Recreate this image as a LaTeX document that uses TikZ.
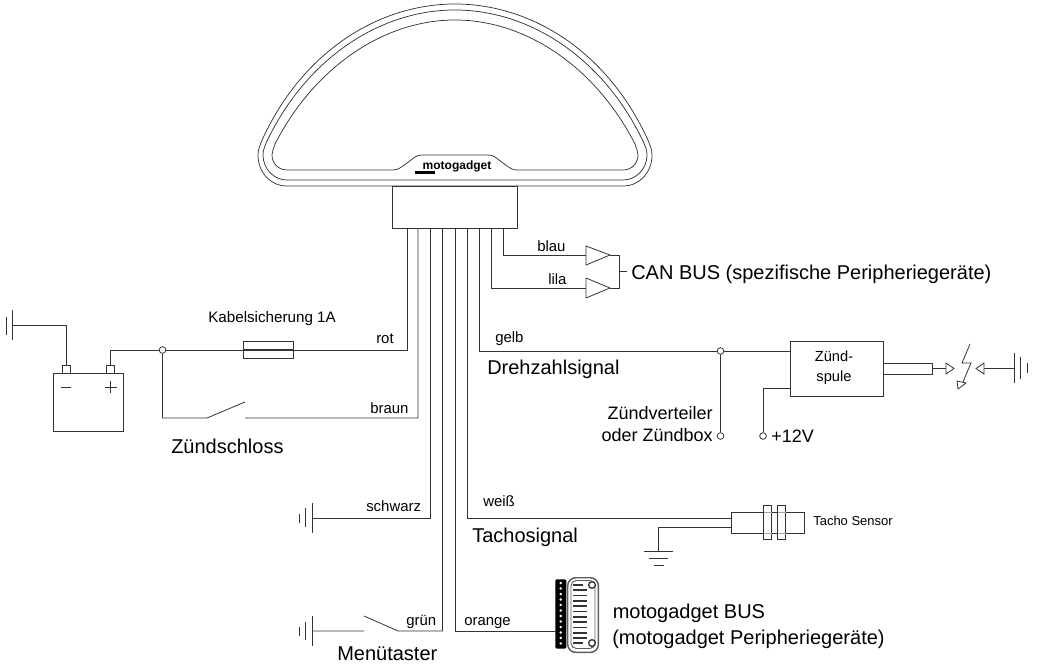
\documentclass[tikz,border=0pt]{standalone}
\usepackage{fontspec}
\setmainfont{Liberation Sans}
\usetikzlibrary{positioning, calc}
\definecolor{wire-grey}{gray}{.2}
\tikzset{
	wire/.style={draw=wire-grey, line width=.6pt},
	hull/.style={draw=wire-grey, line width=.55pt, line join=round},
	junction/.style={circle, draw=wire-grey, line width=.6pt, fill=white, inner sep=0pt, minimum size=5pt},
	part/.style={rectangle, draw=wire-grey, line width=.7pt, inner sep=0pt, outer sep=0pt, fill=white},
	buffer/.style={draw=wire-grey, line width=.6pt, fill=white, line join=miter},
	colourlabel/.style={font=\fontsize{11.2}{13}\selectfont, inner sep=0pt, anchor=base west},
	biglabel/.style={font=\fontsize{15}{18}\selectfont, inner sep=0pt, anchor=base west},
}
\begin{document}
\begin{tikzpicture}[x=.75pt, y=-.75pt]
	\useasboundingbox (0,0) rectangle (1040,667);
	% housing
	\draw[hull] (287,186) .. controls (270,186) and (258,172) .. (258,155) .. controls (258,150) and (259.5,146) .. (263,138)
		.. controls (304,50) and (380,4) .. (455,4) .. controls (530,4) and (606,50) .. (647,138)
		.. controls (650.5,146) and (652,150) .. (652,155) .. controls (652,172) and (640,186) .. (623,186) -- cycle;
	\draw[hull] (287,180) .. controls (274,180) and (263,169) .. (263,155) .. controls (263,150) and (264.5,147) .. (267,141)
		.. controls (308,56) and (382,10) .. (455,10) .. controls (528,10) and (602,56) .. (643,141)
		.. controls (645.5,147) and (647,150) .. (647,155) .. controls (647,169) and (636,180) .. (623,180) -- cycle;
	\draw[hull] (287,170) .. controls (278,170) and (272,163) .. (272,155) .. controls (272,151) and (273.5,149) .. (275,144)
		.. controls (315,66) and (385,20) .. (455,20) .. controls (525,20) and (595,66) .. (635,144)
		.. controls (636.5,149) and (638,151) .. (638,155) .. controls (638,163) and (632,170) .. (623,170)
		-- (518,170) .. controls (512,170) and (510,168) .. (507,166) -- (495,157) .. controls (493,155.5) and (491,155) .. (488,155)
		-- (422,155) .. controls (419,155) and (417,155.5) .. (415,157) -- (403,166) .. controls (400,168) and (398,170) .. (392,170) -- cycle;
	\node[font=\bfseries\fontsize{9}{10}\selectfont, inner sep=0pt] (logo) at (457,166.5) {motogadget};
	\draw[line width=1.6pt] (415,172.5) -- (435,172.5);
	\node[part, minimum width=94pt, minimum height=31.5pt, anchor=north west] (plug) at (392,186) {};
	% battery and ignition lock
	\node[part, minimum width=53pt, minimum height=44pt, anchor=north west] (battery) at (53,373) {};
	\node[part, minimum width=6.5pt, minimum height=6pt, anchor=south] (minus) at (66.5,373) {};
	\node[part, minimum width=6.5pt, minimum height=6pt, anchor=south] (plus) at (110.5,373) {};
	\draw[wire] (61,387) -- (71,387) (104.5,387) -- (116.5,387) (110.5,381) -- (110.5,393);
	\coordinate (gndbat) at (12,325);
	\draw[wire] (12,310) -- (12,340) (6,317) -- (6,335);
	\draw[wire] (gndbat) -| (minus.north);
	\node[part, minimum width=37.5pt, minimum height=12.75pt] (fuse) at (268,349.5) {};
	\node[junction] (jbat) at (162.5,350) {};
	\coordinate (rotin) at (407,228);
	\coordinate (rotbend) at (407,350);
	\draw[wire] (plus.north) |- (jbat) (jbat) -- (rotbend) -- (rotin);
	\draw[wire] (fuse.west) -- (fuse.east);
	\coordinate (lockA) at (207,418);
	\coordinate (lockB) at (245,402);
	\coordinate (lockC) at (245,418);
	\coordinate (braunin) at (418,228);
	\draw[wire] (jbat) |- (lockA) -- (lockB) (lockC) -- (418,418) -- (braunin);
	% black and green
	\coordinate (gndblack) at (312,518);
	\coordinate (blackin) at (430,228);
	\draw[wire] (blackin) |- (gndblack);
	\draw[wire] (312,503) -- (312,533) (305,508) -- (305,527) (299,514) -- (299,523);
	\coordinate (gndgreen) at (312,631);
	\coordinate (tasterA) at (364,631);
	\coordinate (tasterB) at (364,616);
	\coordinate (tasterC) at (398,631);
	\coordinate (greenin) at (442.5,228);
	\draw[wire] (gndgreen) -- (tasterA) (tasterB) -- (tasterC) -- (442.5,631) -- (greenin);
	\draw[wire] (312,616) -- (312,646) (305,622) -- (305,640) (299,627) -- (299,636);
	% motogadget bus
	\node[fill=black, rectangle, rounded corners=1pt, minimum width=8.25pt, minimum height=52pt, inner sep=0pt, anchor=north west] (terminals) at (555,579) {};
	\foreach \i in {0,...,11}
		\fill[white] ($(terminals.north)+(0,{4+\i*5.5})$) circle (1.3);
	\node[draw=wire-grey!80, line width=1.1pt, fill=white, rounded corners=6pt, minimum width=23pt, minimum height=56pt, inner sep=0pt, anchor=north west] (busbody) at (567,577) {};
	\draw[wire-grey!80, line width=.7pt, rounded corners=4pt] (571,580.5) rectangle (595,648.5);
	\foreach \i in {0,...,11}
		\draw[wire-grey, line width=1.3pt] (573,{585+\i*5.3}) -- ({\i==0 || \i==11 ? 583 : 587},{585+\i*5.3});
	\node[junction, minimum size=5pt, line width=1pt] (holeA) at (592,585) {};
	\node[junction, minimum size=5pt, line width=1pt] (holeB) at (592,643) {};
	\coordinate (orangein) at (455,228);
	\draw[wire] (orangein) |- (terminals.west |- 0,631);
	% tacho
	\node[part, minimum width=54.75pt, minimum height=15.75pt, anchor=north west] (sensor) at (731,512) {};
	\node[part, minimum width=6pt, minimum height=26pt, anchor=north west] (nutA) at (763.5,505) {};
	\node[part, minimum width=6pt, minimum height=26pt, anchor=north west] (nutB) at (777.5,505) {};
	\draw[wire, draw=gray!70, line width=.3pt] (763.5,512) -- (771.5,512) (763.5,533) -- (771.5,533) (777.5,512) -- (785.5,512) (777.5,533) -- (785.5,533);
	\coordinate (weissin) at (467,228);
	\coordinate (tachoA) at (731,518);
	\coordinate (tachoB) at (731,527);
	\coordinate (gndtacho) at (658,551);
	\draw[wire] (weissin) |- (tachoA);
	\draw[wire] (tachoB) -| (gndtacho);
	\draw[wire] (644,551) -- (673,551) (649,558) -- (668,558) (654,565) -- (664,565);
	% rpm signal and coil
	\node[part, minimum width=69.75pt, minimum height=41.25pt, anchor=north west] (coil) at (790,341) {};
	\node[junction] (jrpm) at (720.5,351) {};
	\node[junction] (verteiler) at (720.5,436) {};
	\node[junction] (plus12) at (763,436) {};
	\coordinate (gelbin) at (479,228);
	\draw[wire] (gelbin) |- (jrpm);
	\draw[wire] (jrpm) -- (coil.west |- jrpm);
	\draw[wire] (jrpm) -- (verteiler);
	\draw[wire] (plus12) |- (coil.west |- 0,388);
	\coordinate (hvA) at (883,363);
	\coordinate (hvB) at (883,374);
	\coordinate (hvC) at (932,363);
	\coordinate (hvD) at (932,374);
	\coordinate (hvE) at (932,368.5);
	\coordinate (tipA) at (946,368.5);
	\coordinate (tipB) at (984,368.5);
	\coordinate (gndcoil) at (1014,368.5);
	\draw[wire] (hvA) -- (hvC) -- (hvD) -- (hvB);
	\draw[wire] (hvE) -- (tipA);
	\draw[buffer] (946,363) -- (954,368.5) -- (946,374) -- cycle;
	\draw[wire] (gndcoil) -- (tipB);
	\draw[buffer] (984,363) -- (976,368.5) -- (984,374) -- cycle;
	\draw[wire] (970,344) -- (962,363) -- (971,363) -- (963,382);
	\draw[buffer] (957,381) -- (958,389) -- (966,383) -- cycle;
	\draw[wire] (1014,353) -- (1014,383) (1020,357) -- (1020,379) (1027,363) -- (1027,373);
	% can bus
	\coordinate (blauin) at (503,228);
	\coordinate (lilain) at (491,228);
	\coordinate (blaustart) at (586,255);
	\coordinate (lilastart) at (586,288);
	\coordinate (blautip) at (610,255);
	\coordinate (lilatip) at (610,288);
	\coordinate (canA) at (619,255);
	\coordinate (canB) at (619,288);
	\coordinate (canC) at (619,271.5);
	\coordinate (canD) at (627,271.5);
	\draw[wire] (blauin) |- (blaustart) (lilain) |- (lilastart);
	\draw[buffer] (586,246) -- (610,255) -- (586,265) -- cycle;
	\draw[buffer] (586,278) -- (610,288) -- (586,298) -- cycle;
	\draw[wire] (blautip) -- (canA) -- (canB) -- (lilatip) (canC) -- (canD);
	% labels
	\node[colourlabel, font=\fontsize{11.4}{13}\selectfont] (fuselabel) at (208,322) {Kabelsicherung 1A};
	\node[colourlabel] (rot) at (376,343) {rot};
	\node[colourlabel] (braun) at (370,413) {braun};
	\node[colourlabel] (schwarz) at (366,511) {schwarz};
	\node[colourlabel] (gruen) at (406,625) {grün};
	\node[colourlabel] (orange) at (464,625) {orange};
	\node[colourlabel] (blau) at (537,251) {blau};
	\node[colourlabel] (lila) at (548,284) {lila};
	\node[colourlabel] (gelb) at (495,342) {gelb};
	\node[colourlabel] (weiss) at (483,506) {weiß};
	\node[biglabel] (can) at (631,279) {CAN BUS (spezifische Peripheriegeräte)};
	\node[biglabel] (drehzahl) at (487,374) {Drehzahlsignal};
	\node[biglabel] (schloss) at (171,453) {Zündschloss};
	\node[biglabel] (tachosignal) at (472,542) {Tachosignal};
	\node[biglabel] (menue) at (337,660.5) {Menütaster};
	\node[biglabel] (bus) at (612.5,618) {motogadget BUS};
	\node[biglabel] (peri) at (612,644) {(motogadget Peripheriegeräte)};
	\node[biglabel, font=\fontsize{13.5}{16}\selectfont] (volt) at (771,442) {+12V};
	\node[biglabel, align=right, anchor=east, font=\fontsize{13.5}{16}\selectfont] (verteilerlabel) at (713,424) {Zündverteiler\\oder Zündbox};
	\node[colourlabel, align=center, anchor=center, font=\fontsize{11}{15}\selectfont] (coillabel) at (834,368) {Zünd-\\spule};
	\node[colourlabel, font=\fontsize{9.75}{11}\selectfont] (tacholabel) at (813,525) {Tacho Sensor};
\end{tikzpicture}
\end{document}
